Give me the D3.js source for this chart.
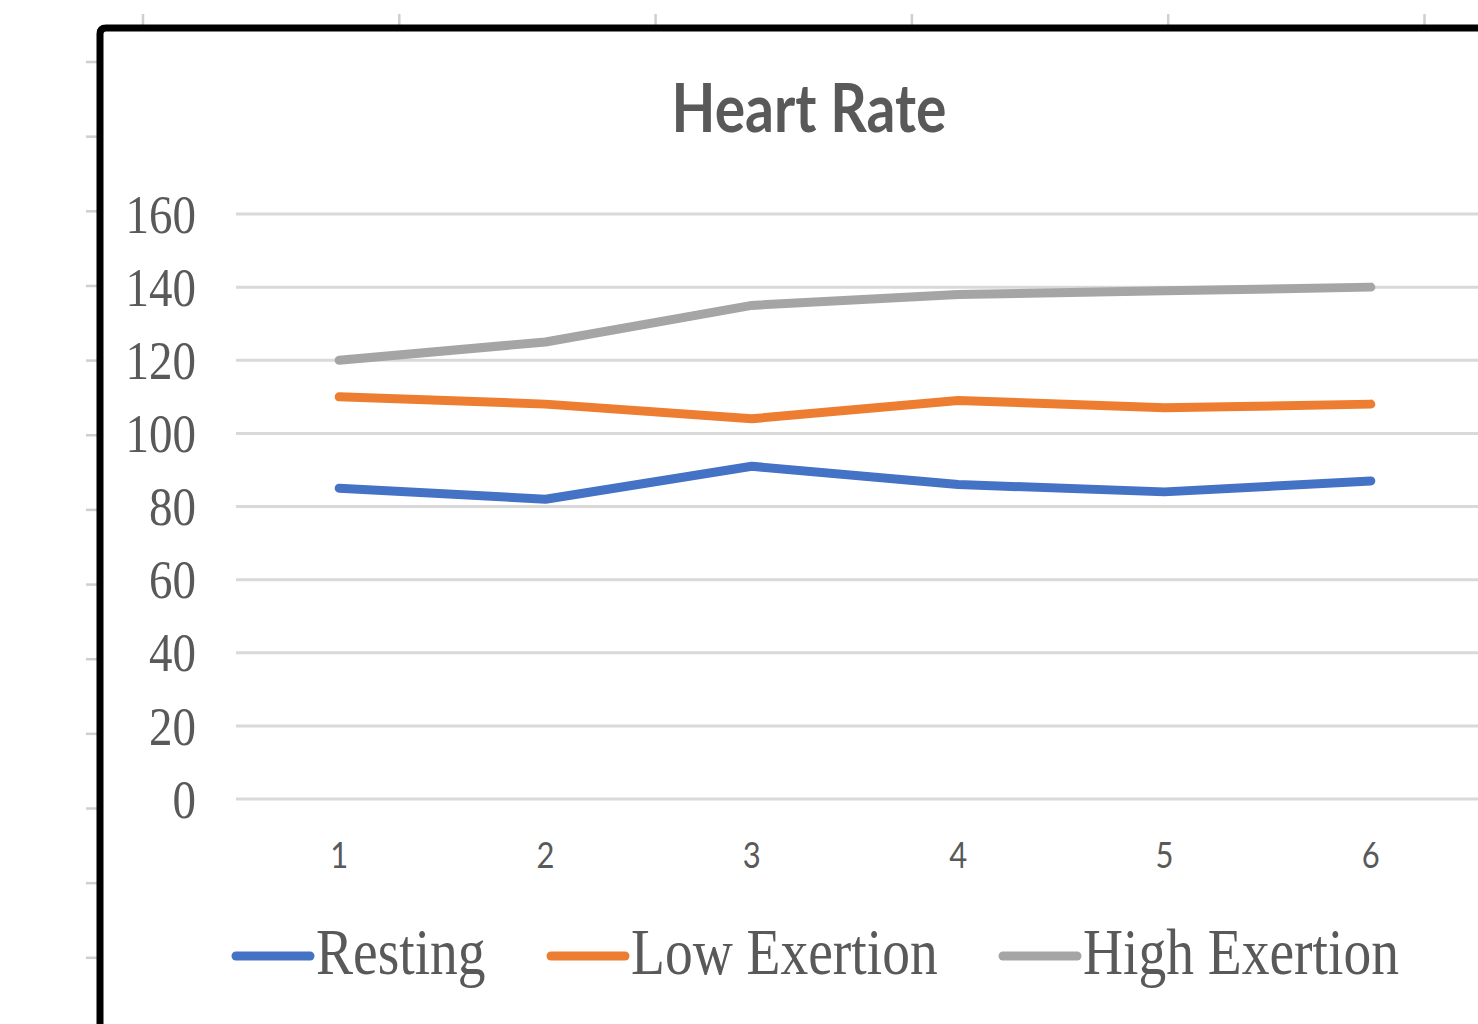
<!DOCTYPE html>
<html>
<head>
<meta charset="utf-8">
<script src="https://cdn.jsdelivr.net/npm/d3@7/dist/d3.min.js"></script>
<style>
  html, body { margin: 0; padding: 0; background: #fff; overflow: hidden; }
  svg { display: block; }
</style>
</head>
<body>
<svg id="chart" width="1478" height="1024"></svg>
<script>
// Sessions along the x axis
const categories = ["1", "2", "3", "4", "5", "6"];

// Heart rate (bpm) per session
const resting      = [85, 82, 91, 86, 84, 87];
const lowExertion  = [110, 108, 104, 109, 107, 108];
const highExertion = [120, 125, 135, 138, 139, 140];

const seriesNames  = ["Resting", "Low Exertion", "High Exertion"];
const seriesColors = ["#4472C4", "#ED7D31", "#A5A5A5"];

const yTicks = [0, 20, 40, 60, 80, 100, 120, 140, 160];

const title = "Heart Rate";

const series = [resting, lowExertion, highExertion].map((values, i) => ({
  name: seriesNames[i], color: seriesColors[i], values
}));

const svg = d3.select("#chart");
const W = 1478, H = 1024;
const textColor = "#595959";
const stretch = 1.17;

// Page ruler marks behind the chart frame
const ruler = svg.append("g").attr("stroke", "#cfcfcf").attr("stroke-width", 2.5);
d3.range(143, W, 256.3).forEach(x => {
  ruler.append("line").attr("x1", x).attr("x2", x).attr("y1", 14).attr("y2", 25);
});
d3.range(62, H, 74.65).forEach(y => {
  ruler.append("line").attr("x1", 86).attr("x2", 97).attr("y1", y).attr("y2", y);
});

// Scales
const x = d3.scaleBand().domain(categories).range([236, 1474]);
const xc = c => x(c) + x.bandwidth() / 2;
const y = d3.scaleLinear().domain([0, 160]).range([799, 214]);

// Gridlines
svg.append("g")
  .selectAll("line")
  .data(yTicks)
  .join("line")
  .attr("x1", 236).attr("x2", W + 10)
  .attr("y1", d => y(d)).attr("y2", d => y(d))
  .attr("stroke", "#d9d9d9").attr("stroke-width", 3);

// Y axis labels
const yAxis = svg.append("g")
  .attr("transform", "translate(196,0)")
  .call(d3.axisLeft(y).tickValues(yTicks).tickSize(0).tickPadding(0));
yAxis.select(".domain").remove();
yAxis.selectAll("text")
  .attr("font-family", "'Liberation Serif', 'Times New Roman', serif")
  .attr("font-size", 47)
  .attr("fill", textColor)
  .attr("dy", "0.33em")
  .attr("transform", `scale(1,${stretch})`);

// X axis labels
const xAxis = svg.append("g")
  .attr("transform", "translate(0,855)")
  .call(d3.axisBottom(x).tickSize(0).tickPadding(0));
xAxis.select(".domain").remove();
xAxis.selectAll("text")
  .attr("font-family", "Lato, 'Open Sans', sans-serif")
  .attr("font-size", 31)
  .attr("fill", textColor)
  .attr("dy", "0.35em")
  .attr("transform", `scale(1,${stretch})`);

// Series lines
const line = d3.line()
  .x((d, i) => xc(categories[i]))
  .y(d => y(d));

svg.append("g")
  .selectAll("path")
  .data(series)
  .join("path")
  .attr("d", d => line(d.values))
  .attr("fill", "none")
  .attr("stroke", d => d.color)
  .attr("stroke-width", 9)
  .attr("stroke-linecap", "round")
  .attr("stroke-linejoin", "round");

// Title
svg.append("text")
  .attr("transform", `translate(809,132) scale(1,${stretch})`)
  .attr("text-anchor", "middle")
  .attr("font-family", "Lato, 'Open Sans', sans-serif")
  .attr("font-weight", "bold")
  .attr("font-size", 57)
  .attr("fill", textColor)
  .text(title);

// Legend
const legendX = [236, 551, 1003];
const legend = svg.append("g")
  .selectAll("g")
  .data(series)
  .join("g")
  .attr("transform", (d, i) => `translate(${legendX[i]},956)`);
legend.append("line")
  .attr("x1", 0).attr("x2", 74)
  .attr("y1", 0).attr("y2", 0)
  .attr("stroke", d => d.color)
  .attr("stroke-width", 9)
  .attr("stroke-linecap", "round");
legend.append("text")
  .attr("transform", `translate(80,18) scale(1,${stretch})`)
  .attr("font-family", "'Liberation Serif', 'Times New Roman', serif")
  .attr("font-size", 55.5)
  .attr("fill", textColor)
  .text(d => d.name);

// Chart frame (left and top edges visible)
svg.append("path")
  .attr("d", `M100,${H + 20} L100,34 Q100,28 106,28 L${W + 20},28`)
  .attr("fill", "none")
  .attr("stroke", "#000")
  .attr("stroke-width", 7);
</script>
</body>
</html>
